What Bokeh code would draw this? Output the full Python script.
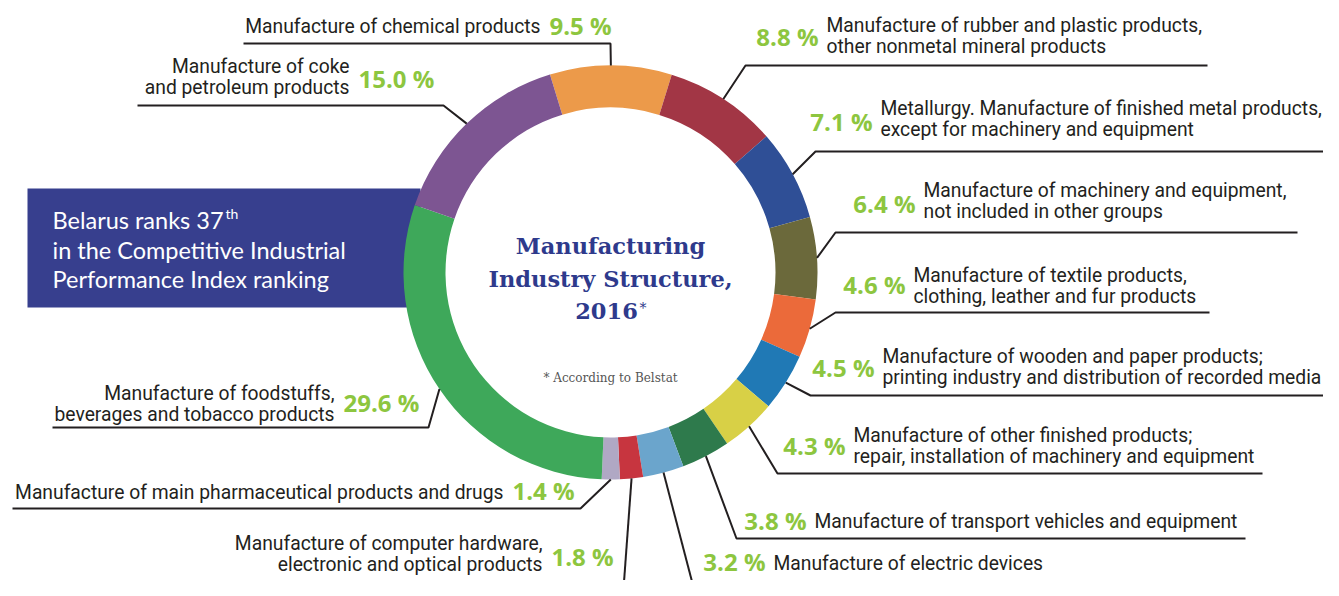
import math
from bokeh.plotting import figure
from bokeh.models import Range1d, ColumnDataSource
from bokeh.embed import file_html
from bokeh.resources import INLINE
from bokeh.core.properties import value

# ---------------- data ----------------
sectors = ["chemical", "rubber", "metal", "machinery", "textile", "wooden", "other",
           "transport", "electric", "computer", "pharma", "food", "coke"]
shares = [9.5, 8.8, 7.1, 6.4, 4.6, 4.5, 4.3, 3.8, 3.2, 1.8, 1.4, 29.6, 15.0]
labels = [
    ["Manufacture of chemical products"],
    ["Manufacture of rubber and plastic products,", "other nonmetal mineral products"],
    ["Metallurgy. Manufacture of finished metal products,", "except for machinery and equipment"],
    ["Manufacture of machinery and equipment,", "not included in other groups"],
    ["Manufacture of textile products,", "clothing, leather and fur products"],
    ["Manufacture of wooden and paper products;", "printing industry and distribution of recorded media"],
    ["Manufacture of other finished products;", "repair, installation of machinery and equipment"],
    ["Manufacture of transport vehicles and equipment"],
    ["Manufacture of electric devices"],
    ["Manufacture of computer hardware,", "electronic and optical products"],
    ["Manufacture of main pharmaceutical products and drugs"],
    ["Manufacture of foodstuffs,", "beverages and tobacco products"],
    ["Manufacture of coke", "and petroleum products"],
]
colors = ["#ec9a4a", "#a23645", "#2f4f96", "#6b693b", "#eb6a3a", "#2079b5", "#d8d046",
          "#2e7a4c", "#6ba5cc", "#c7353f", "#b0a8c4", "#3ea85a", "#7d5592"]

title_lines = ["Manufacturing", "Industry Structure,", "2016"]
title_mark = "*"
footnote = "* According to Belstat"
box_lines = ["Belarus ranks 37", "in the Competitive Industrial", "Performance Index ranking"]
box_sup = "th"

# ---------------- layout (reference pixel coords, y downward) ----------------
W, H = 1323, 580
REF_H = 596
CX, CY = 610, 272
R_OUT, R_IN = 207, 165
START = -17.0  # degrees clockwise from 12 o'clock
BASE_FIX = 0.38  # em: lift applied so glyph baselines land where intended

side = ["L", "R", "R", "R", "R", "R", "R", "R", "R", "L", "L", "L", "L"]
text_x = [540, 826, 880, 923, 913, 882, 853, 814, 773, 542, 503, 334, 349]
first_base = [33, 32, 115, 197, 282, 363, 442, 528, 570, 550, 499, 400, 73]
pct_base = [34, 45, 130, 212, 293, 376, 454, 529, 570, 565, 499, 411, 87]
elbow = [(610, 43), (745, 65), (815, 151), (835, 232), (835, 312), (810, 395), (777, 473),
         (736, 538), (697, 602), (622, 602), (580, 508), (428, 427), (443, 105)]
ul_end = [243, 1207, 1339, 1297, 1209, 1339, 1262, 1245, None, None, 12, 52, 137]
LINE_H = 21.5
LABEL_FS, PCT_FS, TITLE_FS, BOX_FS = 19.3, 24, 22.5, 23.5


def Y(y):
    return REF_H - y


def TY(y, fs):
    return Y(y) + BASE_FIX * fs


p = figure(width=W, height=H, x_range=Range1d(0, W), y_range=Range1d(REF_H - H, REF_H),
           output_backend="svg", toolbar_location=None, min_border=0,
           x_axis_location=None, y_axis_location=None)
p.grid.visible = False
p.outline_line_color = None
p.background_fill_color = "white"
p.border_fill_color = "white"

# blue box
p.quad(left=[27], right=[420], top=[Y(188)], bottom=[Y(307)], fill_color="#373f8e", line_color=None)

# donut
cum = 0.0
starts, ends, mids = [], [], []
for s in shares:
    a0 = START + cum * 3.6
    cum += s
    a1 = START + cum * 3.6
    starts.append(math.radians(90 - a1))
    ends.append(math.radians(90 - a0))
    mids.append((a0 + a1) / 2)
src = ColumnDataSource(dict(start=starts, end=ends, color=colors))
p.annular_wedge(x=CX, y=Y(CY), inner_radius=R_IN, outer_radius=R_OUT,
                start_angle="start", end_angle="end", direction="anticlock",
                fill_color="color", line_color=None, source=src)

# leader lines (start on the ring's outer edge at each slice's middle)
xs, ys = [], []
for i, m in enumerate(mids):
    sx = CX + R_OUT * math.sin(math.radians(m))
    sy = Y(CY) + R_OUT * math.cos(math.radians(m))
    ex, ey = elbow[i]
    lx, ly = [sx, ex], [sy, Y(ey)]
    if ul_end[i] is not None:
        lx.append(ul_end[i])
        ly.append(Y(ey))
    xs.append(lx)
    ys.append(ly)
p.multi_line(xs=xs, ys=ys, line_color="#231f20", line_width=2)

LABEL_FONT = value("Roboto")
PCT_FONT = value("Open Sans")

# label texts
for align in ("left", "right"):
    tx, ty, tt = [], [], []
    for i in range(len(sectors)):
        if (side[i] == "R") != (align == "left"):
            continue
        for k, line in enumerate(labels[i]):
            tx.append(text_x[i])
            ty.append(TY(first_base[i] + k * LINE_H, LABEL_FS))
            tt.append(line)
    p.text(x=tx, y=ty, text=tt, text_font=LABEL_FONT, text_font_size=f"{LABEL_FS}px",
           text_align=align, text_baseline="alphabetic", text_color="#231f20")

# percentages
for align in ("left", "right"):
    px, py, pt = [], [], []
    for i in range(len(sectors)):
        if side[i] == "R" and align == "right":
            px.append(text_x[i] - 8)
        elif side[i] == "L" and align == "left":
            px.append(text_x[i] + 9)
        else:
            continue
        py.append(TY(pct_base[i], PCT_FS))
        pt.append(f"{shares[i]:.1f} %")
    p.text(x=px, y=py, text=pt, text_font=PCT_FONT, text_font_size=f"{PCT_FS}px", text_font_style="bold",
           text_align=align, text_baseline="alphabetic", text_color="#8dc63f")

# title
p.text(x=[610, 610, 606], y=[TY(254, TITLE_FS), TY(287, TITLE_FS), TY(319, TITLE_FS)], text=title_lines,
       text_font=value("DejaVu Serif"), text_font_size=f"{TITLE_FS}px", text_font_style="bold",
       text_align="center", text_baseline="alphabetic", text_color="#2e3a8c")
p.text(x=[639], y=[TY(313, 14)], text=[title_mark], text_font=value("DejaVu Serif"),
       text_font_size="14px", text_align="left", text_baseline="alphabetic", text_color="#2e3a8c")
p.text(x=[610], y=[TY(382, 12)], text=[footnote], text_font=value("DejaVu Serif"),
       text_font_size="12px", text_align="center", text_baseline="alphabetic", text_color="#555555")

# box text
p.text(x=[52, 52, 52], y=[TY(228, BOX_FS), TY(258, BOX_FS), TY(287, BOX_FS)], text=box_lines,
       text_font=value("Lato"), text_font_size=f"{BOX_FS}px", text_align="left",
       text_baseline="alphabetic", text_color="white")
p.text(x=[225], y=[TY(218, 14)], text=[box_sup], text_font=value("Lato"),
       text_font_size="14px", text_align="left", text_baseline="alphabetic", text_color="white")

open("out.html", "w").write(file_html(p, INLINE))
